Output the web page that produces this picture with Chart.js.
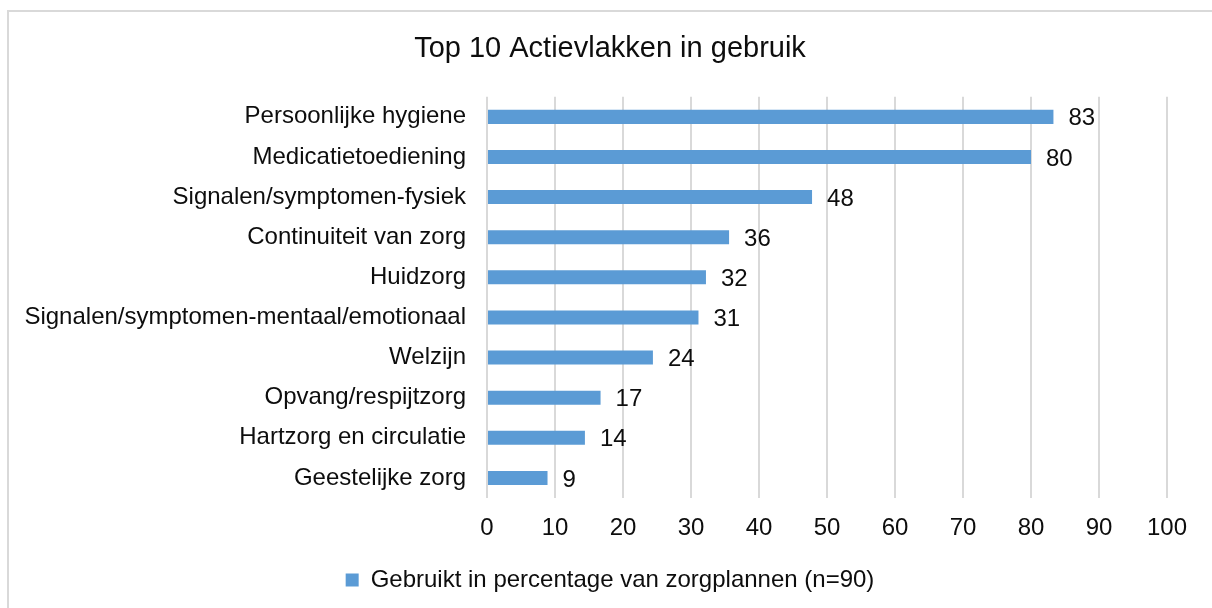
<!DOCTYPE html>
<html>
<head>
<meta charset="utf-8">
<script src="https://cdn.jsdelivr.net/npm/chart.js@4"></script>
<style>
  html, body { margin: 0; padding: 0; background: #fff; }
  #wrap { width: 1212px; height: 608px; }
</style>
</head>
<body>
<div id="wrap"><canvas id="chart"></canvas></div>
<script>
// data (percent of 90 care plans)
var categories = [
    "Persoonlijke hygiene",
    "Medicatietoediening",
    "Signalen/symptomen-fysiek",
    "Continuiteit van zorg",
    "Huidzorg",
    "Signalen/symptomen-mentaal/emotionaal",
    "Welzijn",
    "Opvang/respijtzorg",
    "Hartzorg en circulatie",
    "Geestelijke zorg"
];
var percentages = [83.3, 80, 47.8, 35.6, 32.2, 31.1, 24.4, 16.7, 14.4, 8.9];
var seriesName = "Gebruikt in percentage van zorgplannen (n=90)";
var chartTitle = "Top 10 Actievlakken in gebruik";

var FONT = "'Liberation Sans', Arial, sans-serif";
var TEXT = "#0d0d0d";

// light frame round the whole chart
var framePlugin = {
    id: 'frame',
    beforeDraw: function (chart) {
        var c = chart.ctx;
        c.save();
        c.strokeStyle = '#d9d9d9';
        c.lineWidth = 2;
        c.strokeRect(8, 11, chart.width + 20, chart.height + 20);
        c.restore();
    }
};

// value labels after the bar ends
var valueLabels = {
    id: 'valueLabels',
    afterDatasetsDraw: function (chart) {
        var c = chart.ctx;
        var meta = chart.getDatasetMeta(0);
        c.save();
        c.font = '24px ' + FONT;
        c.fillStyle = TEXT;
        c.textAlign = 'left';
        c.textBaseline = 'middle';
        meta.data.forEach(function (bar, i) {
            c.fillText(Math.round(percentages[i]), bar.x + 15, bar.y + 2);
        });
        c.restore();
    }
};

var ctx = document.querySelector('#chart').getContext('2d');
var chart = new Chart(ctx, {
    type: 'bar',
    data: {
        labels: categories,
        datasets: [{
            label: seriesName,
            data: percentages,
            backgroundColor: '#5b9bd5',
            borderWidth: 0,
            categoryPercentage: 1,
            barPercentage: 0.35
        }]
    },
    options: {
        indexAxis: 'y',
        responsive: true,
        maintainAspectRatio: false,
        animation: false,
        layout: { padding: { left: 8, right: 0, top: 10, bottom: 6 } },
        plugins: {
            title: {
                display: true,
                text: chartTitle,
                color: TEXT,
                font: { family: FONT, size: 29, weight: 'normal' },
                padding: { top: 22, bottom: 30 }
            },
            legend: {
                position: 'bottom',
                labels: {
                    color: TEXT,
                    font: { family: FONT, size: 24 },
                    boxWidth: 13,
                    boxHeight: 13,
                    padding: 10
                }
            },
            tooltip: { enabled: false }
        },
        scales: {
            x: {
                min: 0,
                max: 100,
                ticks: {
                    stepSize: 10,
                    color: TEXT,
                    font: { family: FONT, size: 24 },
                    padding: 16
                },
                grid: { color: '#d9d9d9', lineWidth: 2, drawTicks: false },
                border: { display: false },
                afterFit: function (s) { s.height = 60; }
            },
            y: {
                ticks: {
                    color: TEXT,
                    font: { family: FONT, size: 24 },
                    padding: 21
                },
                grid: { display: false, drawTicks: false },
                border: { display: false },
                afterFit: function (s) { s.width = 479; }
            },
            yRight: {
                position: 'right',
                display: true,
                ticks: { display: false },
                grid: { display: false, drawTicks: false },
                border: { display: false },
                afterFit: function (s) { s.width = 45; }
            }
        }
    },
    plugins: [framePlugin, valueLabels]
});
</script>
</body>
</html>
